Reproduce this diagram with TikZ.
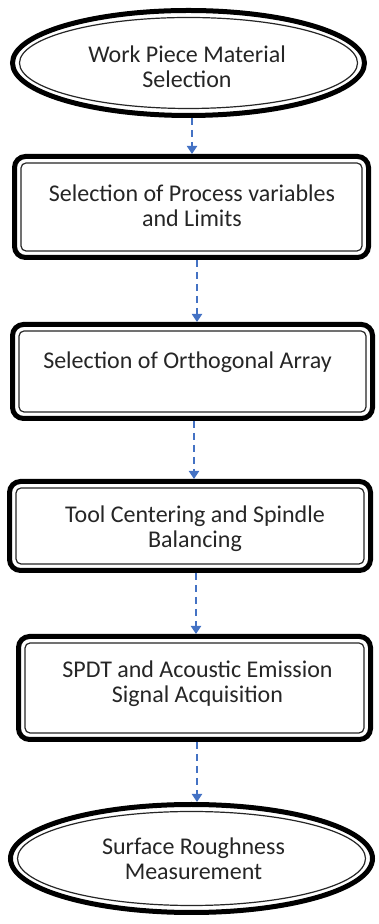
\documentclass[tikz,border=0pt]{standalone}
\usepackage{fontspec}
\setmainfont{Carlito}
\usetikzlibrary{arrows.meta,calc,shapes.geometric}
\definecolor{flowblue}{HTML}{4472C4}
\definecolor{inktext}{HTML}{262626}
\begin{document}
\begin{tikzpicture}[x=1pt,y=1pt,
  frame/.style={draw=black, line width=5pt, fill=white, inner sep=0pt},
  boxframe/.style={frame, rectangle, rounded corners=11pt},
  ovalframe/.style={frame, ellipse},
  innerline/.style={draw=black!85, line width=1.2pt},
  txt/.style={inner sep=0pt, anchor=base, text=inktext,
              font=\fontsize{24}{24.5}\selectfont},
  flow/.style={draw=flowblue, line width=1.8pt, dash pattern=on 7pt off 5pt,
               -{Triangle[width=10pt,length=8pt]}}]
  \useasboundingbox (0,0) rectangle (379,924);

  % outer frames of the six steps
  \node[ovalframe, minimum width=352pt, minimum height=105pt] (e1) at (188.5,861) {};
  \node[boxframe, minimum width=354pt, minimum height=101pt] (b2) at (191.5,717) {};
  \node[boxframe, minimum width=360pt, minimum height=94pt] (b3) at (192.5,552.5) {};
  \node[boxframe, minimum width=361pt, minimum height=89pt] (b4) at (190,398) {};
  \node[boxframe, minimum width=352pt, minimum height=103pt] (b5) at (194.5,236) {};
  \node[ovalframe, minimum width=362pt, minimum height=108pt] (e6) at (191.5,65.5) {};

  % thin inner rules (thick-thin border)
  \draw[innerline] (e1.center) ellipse [x radius=169, y radius=45.5];
  \draw[innerline] (e6.center) ellipse [x radius=174, y radius=47];
  \foreach \b in {b2,b3,b4,b5}
    \draw[innerline, rounded corners=5pt]
      ($(\b.south west)+(9,9)$) rectangle ($(\b.north east)+(-9,-9)$);

  % step labels
  \node[txt] (t1) at (187,861)
    {\begin{tabular}[t]{@{}c@{}}Work Piece Material\\Selection\end{tabular}};
  \node[txt] (t2) at (192,722)
    {\begin{tabular}[t]{@{}c@{}}Selection of Process variables\\and Limits\end{tabular}};
  \node[txt] (t3) at (187.5,555)
    {\begin{tabular}[t]{@{}c@{}}Selection of Orthogonal Array\end{tabular}};
  \node[txt] (t4) at (195,401)
    {\begin{tabular}[t]{@{}c@{}}Tool Centering and Spindle\\Balancing\end{tabular}};
  \node[txt] (t5) at (197.5,246)
    {\begin{tabular}[t]{@{}c@{}}SPDT and Acoustic Emission\\Signal Acquisition\end{tabular}};
  \node[txt] (t6) at (193.5,69)
    {\begin{tabular}[t]{@{}c@{}}Surface Roughness\\Measurement\end{tabular}};

  % dashed connectors
  \coordinate (a1) at (192,0);
  \coordinate (a2) at (197,0);
  \coordinate (a3) at (194,0);
  \coordinate (a4) at (196,0);
  \coordinate (a5) at (197,0);
  \draw[flow] (e1.south -| a1) -- (b2.north -| a1);
  \draw[flow] (b2.south -| a2) -- (b3.north -| a2);
  \draw[flow] (b3.south -| a3) -- (b4.north -| a3);
  \draw[flow] (b4.south -| a4) -- (b5.north -| a4);
  \draw[flow] (b5.south -| a5) -- (e6.north -| a5);
\end{tikzpicture}
\end{document}
